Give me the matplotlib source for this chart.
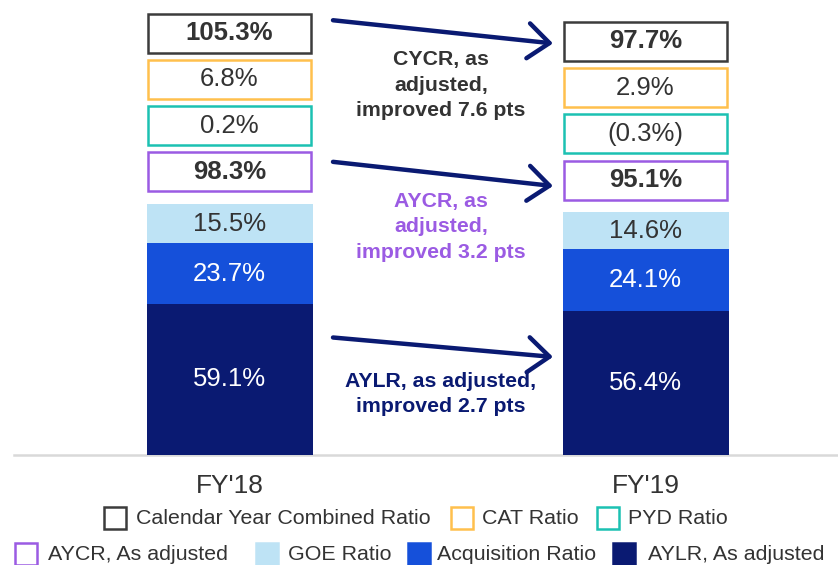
import matplotlib
matplotlib.use("Agg")
import matplotlib.pyplot as plt
from matplotlib.patches import Rectangle
from matplotlib import font_manager

# ---------------- data ----------------
categories = ["FY'18", "FY'19"]
aylr = [59.1, 56.4]          # AYLR, As adjusted
acq = [23.7, 24.1]           # Acquisition Ratio
goe = [15.5, 14.6]           # GOE Ratio
aycr = [98.3, 95.1]          # AYCR, As adjusted
pyd = [0.2, -0.3]            # PYD Ratio
cat = [6.8, 2.9]             # CAT Ratio
cycr = [105.3, 97.7]         # Calendar Year Combined Ratio
notes = ["CYCR, as\nadjusted,\nimproved 7.6 pts",
         "AYCR, as\nadjusted,\nimproved 3.2 pts",
         "AYLR, as adjusted,\nimproved 2.7 pts"]
legend_row1 = ["Calendar Year Combined Ratio", "CAT Ratio", "PYD Ratio"]
legend_row2 = ["AYCR, As adjusted", "GOE Ratio", "Acquisition Ratio", "AYLR, As adjusted"]

# ---------------- style ----------------
NAVY = "#0A1A72"
BLUE = "#1550DA"
LIGHT = "#BEE3F5"
DARK = "#333333"
PURPLE = "#9B5BE3"
GOLD = "#FFC04D"
TEAL = "#1CC1B2"
BLACKBOX = "#3C3C3C"

names = {f.name for f in font_manager.fontManager.ttflist}
MAIN = ["Liberation Sans", "DejaVu Sans"]
narrow_ok = "Liberation Sans Narrow" in names
NARROW = ["Liberation Sans Narrow", "DejaVu Sans"] if narrow_ok else MAIN

W, H = 838, 565
fig = plt.figure(figsize=(W / 100, H / 100), dpi=100)
ax = fig.add_axes([0, 0, 1, 1])
PX = 2.555  # pixels per percentage point
base_px = 455
ax.set_ylim(-(H - base_px) / PX, base_px / PX)
c0, c1 = 229.5, 645.5
unit = c1 - c0
ax.set_xlim(-c0 / unit, (W - c0) / unit)
ax.axis("off")

x = [0, 1]
bw = 166 / unit
ax.bar(x, aylr, width=bw, color=NAVY, zorder=2)
ax.bar(x, acq, width=bw, bottom=aylr, color=BLUE, zorder=2)
bot2 = [a + b for a, b in zip(aylr, acq)]
ax.bar(x, goe, width=bw, bottom=bot2, color=LIGHT, zorder=2)
tops = [a + b for a, b in zip(bot2, goe)]

# baseline
ax.plot([14 / unit - c0 / unit, (W - c0) / unit], [0, 0], color="#D9D9D9", lw=1.8, zorder=1)

def fmt(v):
    return f"({abs(v):.1f}%)" if v < 0 else f"{v:.1f}%"

for i in range(2):
    ax.text(x[i], aylr[i] / 2, fmt(aylr[i]), ha="center", va="center", color="white",
            fontsize=18.5, family=MAIN)
    ax.text(x[i], aylr[i] + acq[i] / 2, fmt(acq[i]), ha="center", va="center", color="white",
            fontsize=18.5, family=MAIN)
    ax.text(x[i], bot2[i] + goe[i] / 2, fmt(goe[i]), ha="center", va="center", color=DARK,
            fontsize=18.5, family=MAIN)

# boxes above bars
gap = 12.5 / PX
pitch = 46.2 / PX
bh = 39 / PX
boxw = 163 / unit
box_series = [(aycr, PURPLE, "bold"), (pyd, TEAL, "normal"), (cat, GOLD, "normal"), (cycr, BLACKBOX, "bold")]
box_centers = {}
for i in range(2):
    for k, (vals, col, wt) in enumerate(box_series):
        b = tops[i] + gap + k * pitch
        ax.add_patch(Rectangle((x[i] - boxw / 2, b), boxw, bh, facecolor="white",
                               edgecolor=col, lw=1.8, zorder=3))
        ax.text(x[i], b + bh / 2, fmt(vals[i]), ha="center", va="center", color=DARK,
                fontsize=18.5, fontweight=wt, family=MAIN, zorder=4)
        box_centers[(i, k)] = b + bh / 2

# arrows
x_start = x[0] + (333 - c0) / unit
x_end = x[0] + (553 - c0) / unit
arrow_kw = dict(arrowstyle="->,head_length=0.55,head_width=0.45", color=NAVY, lw=3.2,
                mutation_scale=28, shrinkA=0, shrinkB=0)
ax.annotate("", xy=(x_end, box_centers[(1, 3)] - 2 / PX), xytext=(x_start, box_centers[(0, 3)] + 13 / PX),
            arrowprops=arrow_kw)
ax.annotate("", xy=(x_end, box_centers[(1, 0)] - 6 / PX), xytext=(x_start, box_centers[(0, 0)] + 10 / PX),
            arrowprops=arrow_kw)
ax.annotate("", xy=(x_end, aylr[1] / 2 + 26 / PX), xytext=(x_start, aylr[0] / 2 + 42 / PX),
            arrowprops=arrow_kw)

xm = x[0] + (441 - c0) / unit
note_fs = 15.3
ls = 1.42
ax.text(xm, (base_px - 85) / PX, notes[0], ha="center", va="center", color=DARK, fontsize=note_fs,
        fontweight="bold", family=MAIN, linespacing=ls)
ax.text(xm, (base_px - 227) / PX, notes[1], ha="center", va="center", color=PURPLE, fontsize=note_fs,
        fontweight="bold", family=MAIN, linespacing=ls)
ax.text(xm, (base_px - 394) / PX, notes[2], ha="center", va="center", color=NAVY, fontsize=note_fs,
        fontweight="bold", family=MAIN, linespacing=ls)

# category labels
cat_fs = 20 if narrow_ok else 19
for i in range(2):
    ax.text(x[i], -(486 - base_px) / PX, categories[i], ha="center", va="center", color=DARK,
            fontsize=cat_fs, family=NARROW)

# legend (manual, figure-pixel coords)
leg_fs = 17 if narrow_ok else 15.4
T = ax.transAxes

def leg_item(px_x, px_y, label, edge, face, text_x):
    s = 22
    ax.add_patch(Rectangle((px_x / W, 1 - (px_y + s / 2) / H), s / W, s / H, transform=T,
                           facecolor=face, edgecolor=edge, lw=1.8, clip_on=False))
    ax.text(text_x / W, 1 - px_y / H, label, transform=T, ha="left", va="center",
            color=DARK, fontsize=leg_fs, family=NARROW)

leg_item(104, 518, legend_row1[0], BLACKBOX, "white", 136)
leg_item(451, 518, legend_row1[1], GOLD, "white", 482)
leg_item(597, 518, legend_row1[2], TEAL, "white", 628)
leg_item(15, 554, legend_row2[0], PURPLE, "white", 48)
leg_item(256, 554, legend_row2[1], LIGHT, LIGHT, 288)
leg_item(408, 554, legend_row2[2], BLUE, BLUE, 437)
leg_item(613, 554, legend_row2[3], NAVY, NAVY, 648)

fig.savefig("out.png", dpi=100)
